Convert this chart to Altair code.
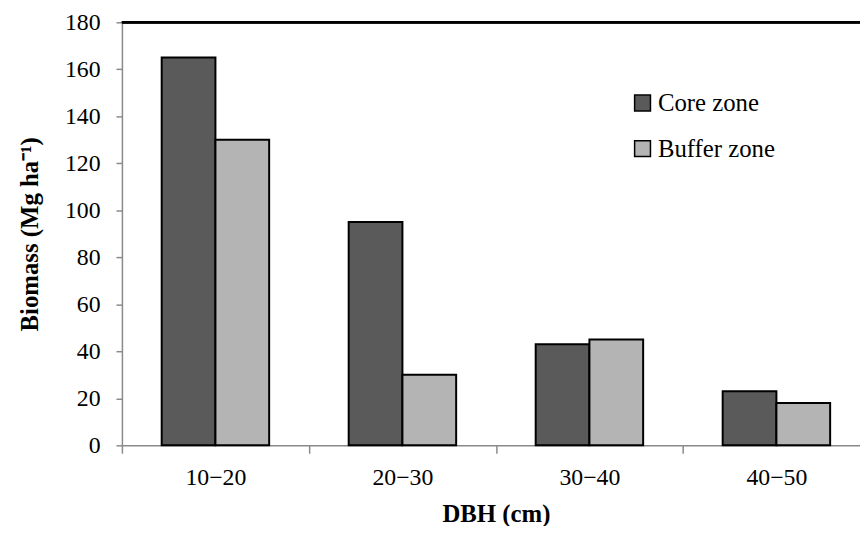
import altair as alt
import pandas as pd

categories = ["10\u221220", "20\u221230", "30\u221240", "40\u221250"]
zones = ["Core zone", "Buffer zone"]
core = [165, 95, 43, 23]
buffer = [130, 30, 45, 18]
y_ticks = [0, 20, 40, 60, 80, 100, 120, 140, 160, 180]

rows = []
for c, a, b in zip(categories, core, buffer):
    rows.append({"DBH": c, "Zone": zones[0], "Biomass": a})
    rows.append({"DBH": c, "Zone": zones[1], "Biomass": b})
df = pd.DataFrame(rows)

FONT = "Liberation Serif"
GRAY = "#8a8a8a"
FS = 24
TFS = 25
W, H = 755, 427

bars = alt.Chart(df).mark_bar(stroke="black", strokeWidth=2).encode(
    x=alt.X(
        "DBH:N",
        sort=categories,
        scale=alt.Scale(paddingInner=0, paddingOuter=0),
        axis=alt.Axis(
            title="DBH (cm)",
            labelAngle=0,
            tickBand="extent",
            tickSize=8,
            tickColor=GRAY,
            tickWidth=1.5,
            domainColor=GRAY,
            domainWidth=1.5,
            labelFont=FONT,
            labelFontSize=FS,
            labelColor="black",
            labelPadding=13,
            titleFont=FONT,
            titleFontSize=TFS,
            titleFontWeight="bold",
            titleColor="black",
            titlePadding=12,
        ),
    ),
    xOffset=alt.XOffset(
        "Zone:N", sort=zones, scale=alt.Scale(paddingInner=0, paddingOuter=0.74)
    ),
    y=alt.Y(
        "Biomass:Q",
        scale=alt.Scale(domain=[0, 180], nice=False),
        axis=alt.Axis(
            title="Biomass (Mg ha\u207b\u00b9)",
            values=y_ticks,
            grid=False,
            tickSize=6,
            tickColor=GRAY,
            tickWidth=1.5,
            domainColor=GRAY,
            domainWidth=1.5,
            labelFont=FONT,
            labelFontSize=FS,
            labelColor="black",
            labelPadding=16,
            titleFont=FONT,
            titleFontSize=TFS,
            titleFontWeight="bold",
            titleColor="black",
            titlePadding=22,
        ),
    ),
    fill=alt.Fill(
        "Zone:N",
        sort=zones,
        scale=alt.Scale(domain=zones, range=["#5a5a5a", "#b4b4b4"]),
        legend=alt.Legend(
            title=None,
            orient="none",
            legendX=513,
            legendY=69,
            labelFont=FONT,
            labelFontSize=TFS,
            labelColor="black",
            symbolType="square",
            symbolSize=256,
            symbolStrokeColor="black",
            symbolStrokeWidth=1.5,
            rowPadding=20,
            labelOffset=3,
            padding=0,
        ),
    ),
)

top = alt.Chart(df).mark_rule(color="black", strokeWidth=2).encode(y=alt.datum(180))

chart = (
    alt.layer(bars, top)
    .properties(
        width=W,
        height=H,
        autosize=alt.AutoSizeParams(type="none"),
        padding={"left": 115, "top": 12, "right": -10, "bottom": 79},
    )
    .configure_view(stroke=None)
)

chart.save("out.html", embed_options={"renderer": "svg", "actions": False})
